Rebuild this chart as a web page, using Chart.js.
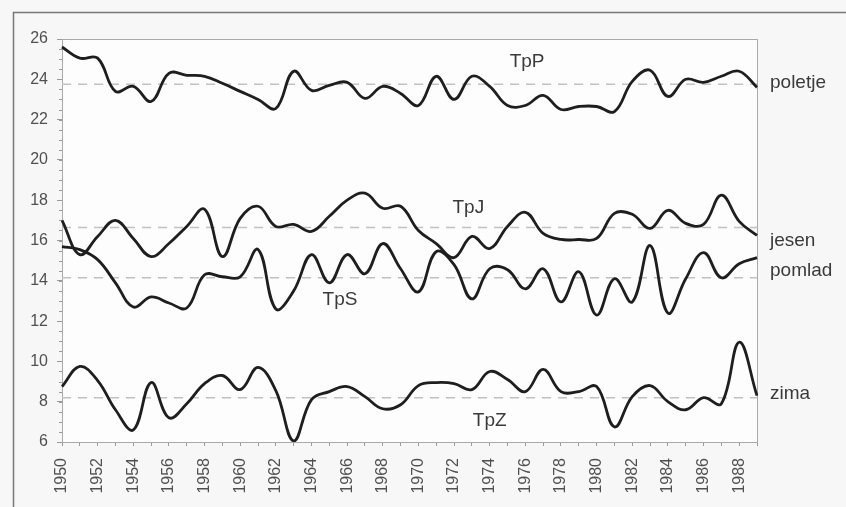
<!DOCTYPE html>
<html>
<head>
<meta charset="utf-8">
<script src="https://cdn.jsdelivr.net/npm/chart.js@4/dist/chart.umd.min.js"></script>
<style>
html,body{margin:0;padding:0;background:#f7f7f7;}
canvas{display:block;}
</style>
</head>
<body>
<canvas id="c" width="846" height="507"></canvas>
<script>
const years = ['1950','1951','1952','1953','1954','1955','1956','1957','1958','1959','1960','1961','1962','1963','1964','1965','1966','1967','1968','1969','1970','1971','1972','1973','1974','1975','1976','1977','1978','1979','1980','1981','1982','1983','1984','1985','1986','1987','1988','1989'];

// poletje (summer)
const tpP = [25.6,25.05,25.05,23.4,23.65,22.9,24.3,24.2,24.15,23.8,23.4,23.0,22.55,24.4,23.45,23.7,23.85,23.05,23.65,23.3,22.7,24.15,23.0,24.15,23.65,22.7,22.7,23.2,22.5,22.65,22.65,22.4,23.9,24.45,23.15,24.0,23.85,24.15,24.4,23.6];
// jesen (autumn)
const tpJ = [17.0,15.3,16.2,17.0,16.1,15.2,15.85,16.7,17.55,15.2,17.1,17.7,16.7,16.8,16.45,17.2,18.0,18.35,17.6,17.7,16.5,15.85,15.15,16.2,15.6,16.7,17.4,16.35,16.05,16.05,16.1,17.35,17.3,16.6,17.5,16.85,16.8,18.25,16.95,16.25];
// pomlad (spring)
const tpS = [15.7,15.55,15.05,13.9,12.7,13.2,12.9,12.65,14.3,14.2,14.2,15.55,12.6,13.5,15.3,13.9,15.3,14.35,15.85,14.6,13.45,15.45,14.8,13.1,14.6,14.55,13.6,14.6,12.95,14.45,12.3,14.1,12.95,15.75,12.4,14.1,15.4,14.15,14.85,15.15];
// zima (winter)
const tpZ = [8.75,9.75,9.05,7.6,6.6,8.95,7.2,7.9,8.9,9.3,8.6,9.7,8.55,6.05,8.1,8.5,8.75,8.25,7.65,7.85,8.8,8.95,8.9,8.6,9.5,9.1,8.5,9.6,8.5,8.5,8.75,6.75,8.25,8.8,8.0,7.6,8.2,7.9,10.95,8.3];

const meanValues = [23.75, 16.65, 14.15, 8.2];

const yTicks = [6,8,10,12,14,16,18,20,22,24,26];

// inside labels: [year index, value]
const seriesNames = ['TpP','TpJ','TpS','TpZ'];
const seriesNamePos = [[26.1,24.85],[22.8,17.6],[15.6,13.05],[24.0,7.05]];
// right labels
const seasonNames = ['poletje','jesen','pomlad','zima'];
const seasonValues = [23.85,16.0,14.5,8.4];

const deco = {
  id:'deco',
  beforeDraw(chart){
    const ctx = chart.ctx;
    ctx.save();
    ctx.fillStyle = '#f7f7f7';
    ctx.fillRect(0,0,chart.width,chart.height);
    ctx.strokeStyle = '#777';
    ctx.lineWidth = 1.5;
    ctx.strokeRect(13.5,12.5,chart.width+10,chart.height+10);
    ctx.fillStyle = '#fdfdfd';
    const a = chart.chartArea;
    ctx.fillRect(a.left,a.top,a.right-a.left,a.bottom-a.top);
    ctx.restore();
  },
  beforeDatasetsDraw(chart){
    const ctx = chart.ctx, a = chart.chartArea, y = chart.scales.y;
    ctx.save();
    ctx.strokeStyle = '#aaa';
    ctx.lineWidth = 1;
    ctx.strokeRect(a.left+0.5,a.top+0.5,a.right-a.left,a.bottom-a.top);
    // minor y ticks
    ctx.strokeStyle = '#999';
    for(let v=6; v<=26.001; v+=0.5){
      const py = Math.round(y.getPixelForValue(v))+0.5;
      ctx.beginPath(); ctx.moveTo(a.left-3,py); ctx.lineTo(a.left,py); ctx.stroke();
    }
    // mean lines
    ctx.strokeStyle = '#c2c2c2';
    ctx.lineWidth = 1.5;
    ctx.setLineDash([9,7]);
    meanValues.forEach(m=>{
      const py = y.getPixelForValue(m);
      ctx.beginPath(); ctx.moveTo(a.left,py); ctx.lineTo(a.right,py); ctx.stroke();
    });
    ctx.restore();
  },
  afterDatasetsDraw(chart){
    const ctx = chart.ctx, a = chart.chartArea, y = chart.scales.y, x = chart.scales.x;
    ctx.save();
    ctx.fillStyle = '#3a3a3a';
    ctx.font = '19px "Liberation Sans", Arial, sans-serif';
    ctx.textAlign = 'center';
    ctx.textBaseline = 'middle';
    seriesNames.forEach((n,i)=>{
      const p = seriesNamePos[i];
      ctx.fillText(n, x.getPixelForValue(p[0]), y.getPixelForValue(p[1]));
    });
    ctx.textAlign = 'left';
    seasonNames.forEach((n,i)=>{
      ctx.fillText(n, a.right+13, y.getPixelForValue(seasonValues[i]));
    });
    ctx.restore();
  }
};

const lineStyle = {borderColor:'#1e1e1e', borderWidth:2.8, pointRadius:0, tension:0.4, fill:false};

new Chart(document.getElementById('c'), {
  type:'line',
  data:{
    labels: years,
    datasets:[
      Object.assign({label:'TpP', data:tpP}, lineStyle),
      Object.assign({label:'TpJ', data:tpJ}, lineStyle),
      Object.assign({label:'TpS', data:tpS}, lineStyle),
      Object.assign({label:'TpZ', data:tpZ}, lineStyle)
    ]
  },
  options:{
    responsive:false,
    animation:false,
    layout:{padding:{top:39,right:89,left:0,bottom:0}},
    plugins:{legend:{display:false},tooltip:{enabled:false}},
    scales:{
      x:{
        offset:false,
        grid:{drawOnChartArea:false,drawTicks:true,tickLength:4,color:'#999'},
        border:{display:true,color:'#999',width:1},
        ticks:{
          autoSkip:false,maxRotation:90,minRotation:90,padding:12,
          color:'#505050',
          font:{family:'"Liberation Sans", Arial, sans-serif',size:16},
          callback:function(v,i){ return (i%2===0)? years[i] : ''; }
        },
        afterFit(s){ s.height = 65; }
      },
      y:{
        min:6,max:26,
        afterBuildTicks(s){ s.ticks = yTicks.map(v=>({value:v})); },
        grid:{drawOnChartArea:false,drawTicks:true,tickLength:5,color:'#999'},
        border:{display:true,color:'#999',width:1},
        ticks:{
          padding:9,color:'#505050',
          font:{family:'"Liberation Sans", Arial, sans-serif',size:16}
        },
        afterFit(s){ s.width = 62; }
      }
    }
  },
  plugins:[deco]
});
</script>
</body>
</html>
